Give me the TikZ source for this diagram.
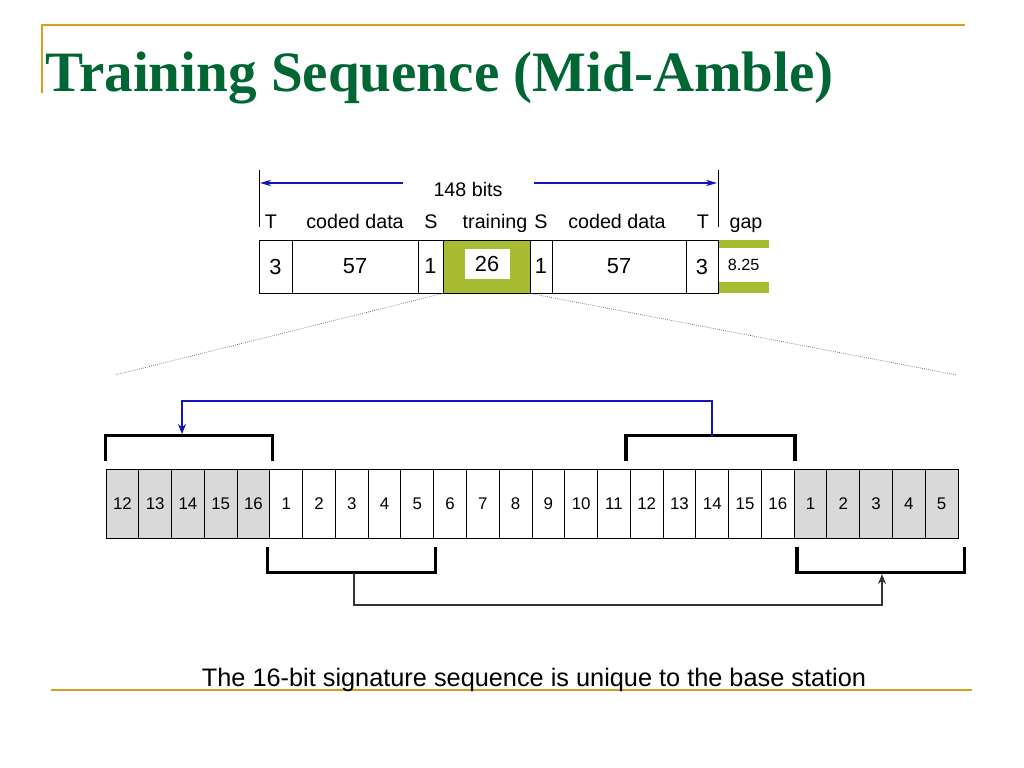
\documentclass[tikz,border=0pt]{standalone}
\usepackage{fontspec}
\setmainfont{Liberation Sans}
\newfontfamily\titlefont{Liberation Serif}
\usetikzlibrary{arrows.meta}

\definecolor{titlegreen}{RGB}{0,102,51}
\definecolor{rulegold}{RGB}{212,160,30}
\definecolor{trngreen}{RGB}{168,188,50}
\definecolor{cpgray}{RGB}{217,217,217}
\definecolor{sigblue}{RGB}{20,20,190}

\newcommand{\px}{0.025cm}

\tikzset{
  cell/.style={draw, line width=0.7pt, minimum height={53*\px}, inner sep=0pt,
    font=\fontsize{15.5}{18}\selectfont},
  bit/.style={draw, line width=0.7pt, minimum width={32.77*\px},
    minimum height={69*\px}, inner sep=0pt, font=\fontsize{12}{14}\selectfont},
  field/.style={anchor=base, inner sep=0pt, font=\fontsize{14}{16}\selectfont},
  bracket/.style={line width=2.6pt},
  rule/.style={rulegold, line width=2pt},
}

\begin{document}
\begin{tikzpicture}[x=\px, y=-\px]
    \useasboundingbox (0,0) rectangle (1024,768);

    % slide frame
    \draw [rule] (42,93) -- (42,25) -- (965,25);
    \draw [rule] (51,690) -- (972,690);
    \node (title) [anchor=base west, inner sep=0pt, text=titlegreen,
      font=\titlefont\bfseries\fontsize{40.6}{44}\selectfont] at (45,92)
      {Training Sequence (Mid-Amble)};

    % normal burst
    \node (gap) [cell, draw=none, fill=trngreen, minimum width={51*\px}] at (743.5,266.5) {};
    \node (gapval) [fill=white, inner sep=0pt, minimum width={51*\px},
      minimum height={34*\px}, font=\fontsize{11.5}{13}\selectfont] at (743.5,265) {8.25};
    \foreach \a/\b/\t/\nm in {259/292/3/tA, 292/418/57/dA, 418/443/1/sA,
                              530/552/1/sB, 552/686/57/dB, 686/718/3/tB}
      \node (\nm) [cell, minimum width={(\b-\a)*\px}] at ({(\a+\b)/2},266.5) {\t};
    \node (trn) [cell, fill=trngreen, minimum width={87*\px}] at (486.5,266.5) {};
    \node (trnval) [cell, draw=none, fill=white, minimum width={45*\px},
      minimum height={30*\px}] at (487,264) {26};

    \foreach \x/\t/\nm in {271/T/lblTA, 355/coded data/lblDA, 431/S/lblSA,
                           495/training/lblTrn, 541/S/lblSB, 617/coded data/lblDB,
                           703/T/lblTB, 746/gap/lblGap}
      \node (\nm) [field] at (\x,228) {\t};

    % burst length
    \coordinate (frameLtop) at (259,170);
    \coordinate (frameLbot) at (259,227);
    \coordinate (frameRtop) at (718,170);
    \coordinate (frameRbot) at (718,227);
    \draw [line width=0.7pt] (frameLtop) -- (frameLbot);
    \draw [line width=0.7pt] (frameRtop) -- (frameRbot);
    \node (bits) [field] at (468,196) {148 bits};
    \coordinate (spanL) at (260,183);
    \coordinate (spanR) at (717,183);
    \coordinate (bitsL) at (403,183);
    \coordinate (bitsR) at (534,183);
    \draw [sigblue, line width=0.8pt, -{Stealth[length=0.28cm, width=0.16cm]}] (bitsL) -- (spanL);
    \draw [sigblue, line width=0.8pt, -{Stealth[length=0.28cm, width=0.16cm]}] (bitsR) -- (spanR);

    % zoom into the mid-amble
    \coordinate (zoomL) at (115,375);
    \coordinate (zoomR) at (957,375);
    \draw [densely dotted, gray!70!black, line width=0.5pt] (trn.south west) -- (zoomL);
    \draw [densely dotted, gray!70!black, line width=0.5pt] (trn.south east) -- (zoomR);

    % 26 bits of the training sequence
    \foreach \n [count=\i from 0] in {12,...,16}
      \node (L\n) [bit, fill=cpgray] at ({106+32.77*(\i+0.5)},503.5) {\n};
    \foreach \n in {1,...,16}
      \node (W\n) [bit] at ({106+32.77*(\n+4.5)},503.5) {\n};
    \foreach \n in {1,...,5}
      \node (R\n) [bit, fill=cpgray] at ({106+32.77*(\n+20.5)},503.5) {\n};

    % brackets
    \draw [bracket] ([yshift=0.2cm]L12.north west) -- ++(0,-25)
      -| ([xshift=0.05cm, yshift=0.2cm]L16.north east);
    \draw [bracket] ([xshift=-0.1cm, yshift=0.2cm]W12.north west) -- ++(0,-25)
      -| ([yshift=0.2cm]W16.north east);
    \draw [bracket] ([xshift=-0.05cm, yshift=-0.2cm]W1.south west) -- ++(0,26)
      -| ([xshift=0.03cm, yshift=-0.2cm]W5.south east);
    \draw [bracket] ([xshift=0.08cm, yshift=-0.2cm]R1.south west) -- ++(0,26)
      -| ([xshift=0.15cm, yshift=-0.2cm]R5.south east);

    % cyclic copies
    \coordinate (sigTop) at (712,436);
    \coordinate (cpTop) at (182,434);
    \coordinate (sigBot) at (354,573);
    \coordinate (cpBot) at (882,574);
    \draw [sigblue, line width=0.8pt, -{Stealth[length=0.25cm, width=0.2cm]}]
      (sigTop) -- ++(0,-35) -| (cpTop);
    \draw [black!80, line width=0.9pt, -{Stealth[length=0.25cm, width=0.2cm]}]
      (sigBot) -- ++(0,32) -| (cpBot);

    \node (caption) [anchor=base, inner sep=0pt, font=\fontsize{18}{22}\selectfont]
      at (534,686) {The 16-bit signature sequence is unique to the base station};
\end{tikzpicture}
\end{document}
